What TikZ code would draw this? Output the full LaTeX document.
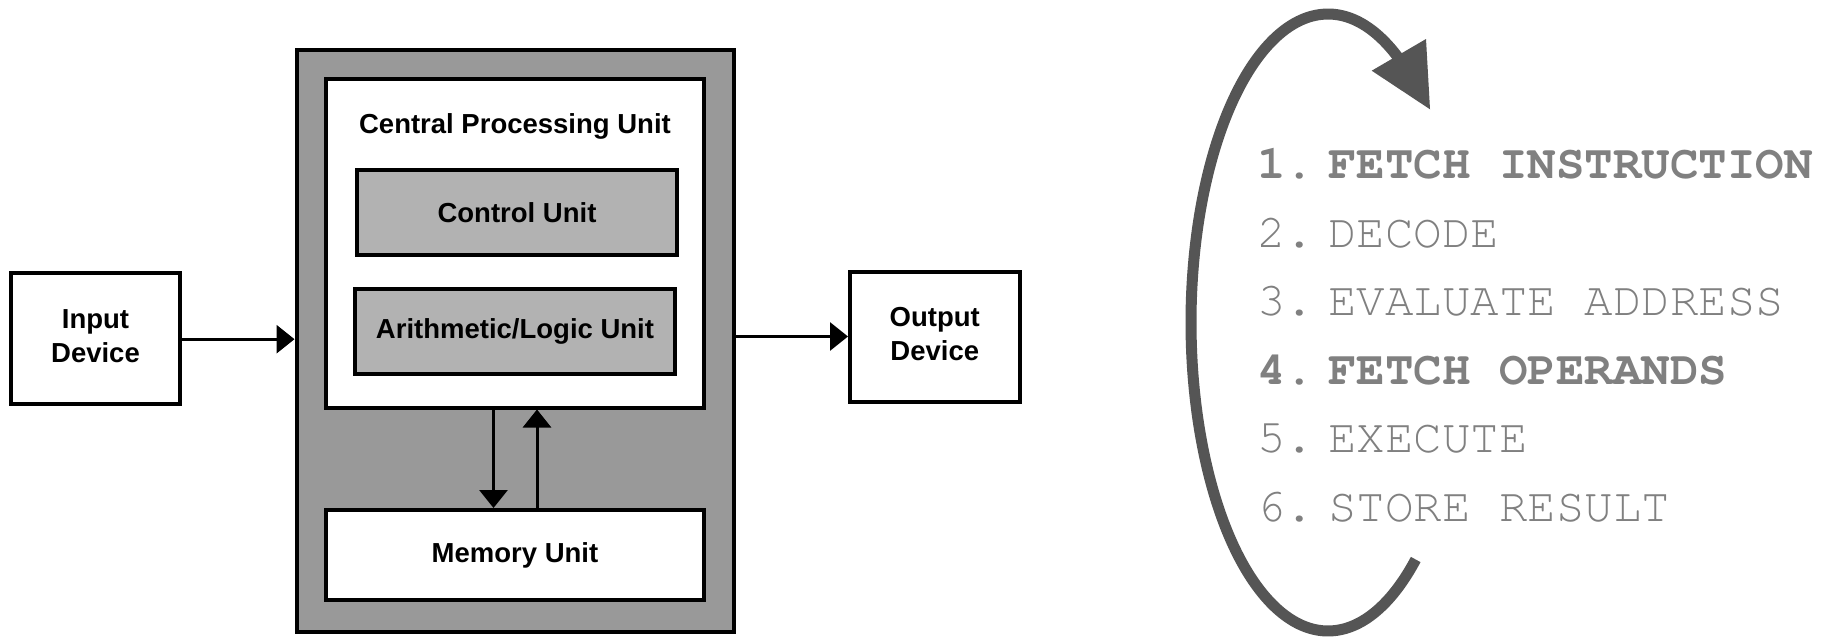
\documentclass[tikz,border=0pt]{standalone}
\usepackage{fontspec}
\setmainfont{Liberation Sans}
\newfontfamily\listfont{texgyrecursor}[Extension=.otf, UprightFont=*-regular, BoldFont=*-bold]
\usetikzlibrary{arrows.meta}
\definecolor{casegray}{HTML}{999999}
\definecolor{unitgray}{HTML}{B2B2B2}
\definecolor{cyclegray}{HTML}{555555}
\definecolor{stepgray}{HTML}{808080}
\newcommand{\stepno}[1]{\makebox[71pt][l]{#1}}
\tikzset{
  unitbox/.style={draw=black, line width=4pt, rectangle, inner sep=0pt, align=center,
    font=\fontsize{27.5}{33}\selectfont\bfseries},
  boxlabel/.style={inner sep=0pt, font=\fontsize{27.5}{33}\selectfont\bfseries},
  flow/.style={line width=3pt, -{Triangle[length=18pt,width=28pt]}},
  stepline/.style={anchor=base west, inner sep=0pt, text=stepgray,
    font=\listfont\fontsize{47.5}{57}\selectfont\frenchspacing},
}
\begin{document}
\begin{tikzpicture}[x=1pt,y=-1pt]
\useasboundingbox[fill=white] (0,0) rectangle (1836,637);

% computer block
\node[unitbox, fill=casegray, minimum width=437.5pt, minimum height=582.5pt] (computer) at (515.25,340.75) {};
\node[unitbox, fill=white, minimum width=378pt, minimum height=328.5pt] (cpu) at (515,243.25) {};
\node[boxlabel] (cpulabel) at (515,126.5) {Central Processing Unit};
\node[unitbox, fill=unitgray, minimum width=320pt, minimum height=85pt] (control) at (517,212.5) {Control Unit};
\node[unitbox, fill=unitgray, minimum width=320pt, minimum height=85.5pt] (alu) at (515,331.25) {Arithmetic/Logic Unit};
\node[unitbox, fill=white, minimum width=378pt, minimum height=90pt] (memory) at (515,555) {\raisebox{-1.5pt}{Memory Unit}};

% peripherals
\node[unitbox, fill=white, minimum width=169pt, minimum height=131pt] (input) at (95.5,338.5) {\raisebox{4.75pt}{\shortstack{Input\\[6pt]Device}}};
\node[unitbox, fill=white, minimum width=169.5pt, minimum height=130pt] (output) at (934.75,336.5) {\raisebox{5.25pt}{\shortstack{Output\\[6pt]Device}}};

% data paths
\draw[flow] ([yshift=-0.7pt]input.east) -- ([yshift=-0.7pt]input.east -| computer.west);
\draw[flow] (computer.east |- output.west) -- (output.west);
\draw[flow] ([xshift=-21.5pt]cpu.south) -- ([xshift=-21.5pt]memory.north);
\draw[flow] ([xshift=22pt]memory.north) -- ([xshift=22pt]cpu.south);

% instruction cycle
\draw[cyclegray, line width=11pt]
  plot[domain=50.2:303, samples=140, smooth] ({1328+137*cos(\x)}, {322.5+308.5*sin(\x)});
\fill[cyclegray] (1371.7,70.7) -- (1426,39) -- (1430,109.3) -- cycle;

\node[stepline] (s1) at (1257,178.5) {\bfseries\stepno{1.}FETCH INSTRUCTION};
\node[stepline] (s2) at (1257,247) {\stepno{2.}DECODE};
\node[stepline] (s3) at (1257,315.5) {\stepno{3.}EVALUATE ADDRESS};
\node[stepline] (s4) at (1257,384) {\bfseries\stepno{4.}FETCH OPERANDS};
\node[stepline] (s5) at (1257,452.5) {\stepno{5.}EXECUTE};
\node[stepline] (s6) at (1257,521) {\stepno{6.}STORE RESULT};
\end{tikzpicture}
\end{document}
